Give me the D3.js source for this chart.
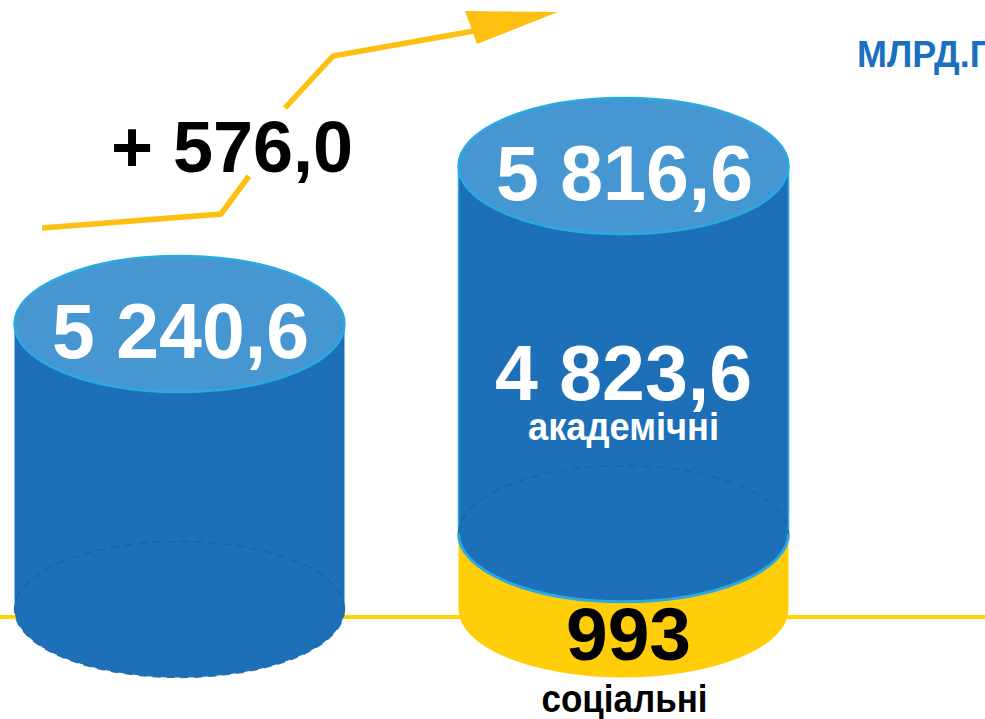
<!DOCTYPE html>
<html>
<head>
<meta charset="utf-8">
<script src="https://cdn.jsdelivr.net/npm/d3@7"></script>
<style>
  html, body { margin: 0; padding: 0; background: #fff; overflow: hidden; }
  svg { display: block; font-family: "Liberation Sans", Arial, sans-serif; font-weight: bold; }
</style>
</head>
<body>
<svg id="chart" width="985" height="719"></svg>
<script>
// dati
const categories = ['prima', 'dopo'];
const totals = [5240.6, 5816.6];
const academic = [null, 4823.6];
const social = [null, 993];
const growth = 576.0;
const unitLabel = 'МЛРД.ГРН';
const academicLabel = 'академічні';
const socialLabel = 'соціальні';

const W = 985, H = 719;
const svg = d3.select('#chart');

// formato ucraino: spazio per le migliaia, virgola decimale
const uaLocale = d3.formatLocale({ decimal: ',', thousands: ' ', grouping: [3], currency: ['', ''] });
const fmt1 = uaLocale.format(',.1f');
const fmt0 = uaLocale.format(',.0f');

const baseY = 609.5;   // centro ellisse di base
const rx = 165, ry = 68;

const x = d3.scalePoint().domain(categories).range([179.5, 623.5]);
// asse verticale tronco (come nell'originale)
const y = d3.scaleLinear().domain([4200, 5816.6]).range([baseY, 166]);

const colSide = '#1d70b8';
const colTop = '#4596d1';
const colEdge = '#29abe2';
const colYellow = '#ffce08';

// linea orizzontale gialla dietro ai cilindri
svg.append('line')
  .attr('x1', 0).attr('x2', W)
  .attr('y1', 617).attr('y2', 617)
  .style('stroke', '#ffd600')
  .style('stroke-width', 4);

// corpo del cilindro: lati + mezza ellisse inferiore
function body(cx, yTop, yBot) {
  return `M${cx - rx},${yTop} L${cx - rx},${yBot} A${rx},${ry} 0 0 0 ${cx + rx},${yBot} L${cx + rx},${yTop} Z`;
}
function frontArc(cx, yc) {
  return `M${cx - rx},${yc} A${rx},${ry} 0 0 0 ${cx + rx},${yc}`;
}
function backArc(cx, yc) {
  return `M${cx - rx},${yc} A${rx},${ry} 0 0 1 ${cx + rx},${yc}`;
}

categories.forEach((c, i) => {
  const cx = x(c);
  const yTop = y(totals[i]);
  const g = svg.append('g').attr('class', 'cyl');

  if (social[i] != null) {
    // segmento sociale (giallo) in basso
    const seg = d3.scaleLinear().domain([0, totals[i]]).range([baseY, yTop]);
    const yMid = seg(social[i]);

    g.append('path')
      .attr('d', body(cx, yMid, baseY))
      .style('fill', colYellow);

    g.append('path')
      .attr('d', body(cx, yTop, yMid))
      .style('fill', colSide)
      .style('stroke', colEdge)
      .style('stroke-width', 1.5);

    g.append('path')
      .attr('d', frontArc(cx, yMid))
      .style('fill', 'none')
      .style('stroke', colEdge)
      .style('stroke-width', 3);

    g.append('path')
      .attr('d', backArc(cx, yMid))
      .style('fill', 'none')
      .style('stroke', '#15609e')
      .style('stroke-width', 1.3)
      .style('stroke-dasharray', '8,6')
      .style('opacity', 0.8);

    // etichette interne
    g.append('text')
      .attr('x', cx).attr('y', yTop + 234)
      .attr('text-anchor', 'middle')
      .style('font-size', '77px')
      .style('fill', '#fff')
      .text(fmt1(academic[i]));

    g.append('text')
      .attr('x', cx).attr('y', yTop + 274)
      .attr('text-anchor', 'middle')
      .style('font-size', '38px')
      .style('fill', '#fff')
      .attr('textLength', 191)
      .attr('lengthAdjust', 'spacingAndGlyphs')
      .text(academicLabel);

    g.append('text')
      .attr('x', cx + 5).attr('y', baseY + 50)
      .attr('text-anchor', 'middle')
      .style('font-size', '75px')
      .style('fill', '#000')
      .text(fmt0(social[i]));

    g.append('text')
      .attr('x', cx + 1).attr('y', baseY + 102)
      .attr('text-anchor', 'middle')
      .style('font-size', '38px')
      .style('fill', '#000')
      .attr('textLength', 166)
      .attr('lengthAdjust', 'spacingAndGlyphs')
      .text(socialLabel);
  } else {
    g.append('path')
      .attr('d', body(cx, yTop, baseY))
      .style('fill', colSide);

    // base tratteggiata
    g.append('ellipse')
      .attr('cx', cx).attr('cy', baseY)
      .attr('rx', rx).attr('ry', ry)
      .style('fill', 'none')
      .style('stroke', '#15609e')
      .style('stroke-width', 1.3)
      .style('stroke-dasharray', '8,6')
      .style('opacity', 0.85);
  }

  // coperchio
  g.append('ellipse')
    .attr('cx', cx).attr('cy', yTop)
    .attr('rx', rx).attr('ry', ry)
    .style('fill', colTop)
    .style('stroke', colEdge)
    .style('stroke-width', 2.5);

  g.append('text')
    .attr('x', cx + 1).attr('y', yTop + 34)
    .attr('text-anchor', 'middle')
    .style('font-size', '77px')
    .style('fill', '#fff')
    .text(fmt1(totals[i]));
});

// freccia di crescita
const arrowCol = '#fdc010';
const line = d3.line();
svg.append('path')
  .attr('d', line([[42, 228], [221, 214], [249, 176]]))
  .style('fill', 'none')
  .style('stroke', arrowCol)
  .style('stroke-width', 5.5);
svg.append('path')
  .attr('d', line([[285, 108], [333, 56], [474, 31]]))
  .style('fill', 'none')
  .style('stroke', arrowCol)
  .style('stroke-width', 5.5);
svg.append('polygon')
  .attr('points', '465,11 558,12 477,44')
  .style('fill', arrowCol);

svg.append('text')
  .attr('x', 232).attr('y', 172)
  .attr('text-anchor', 'middle')
  .style('font-size', '72px')
  .style('fill', '#000')
  .text('+ ' + fmt1(growth));

svg.append('text')
  .attr('x', 857).attr('y', 67)
  .style('font-size', '36px')
  .style('fill', '#1a6fbf')
  .text(unitLabel);
</script>
</body>
</html>
